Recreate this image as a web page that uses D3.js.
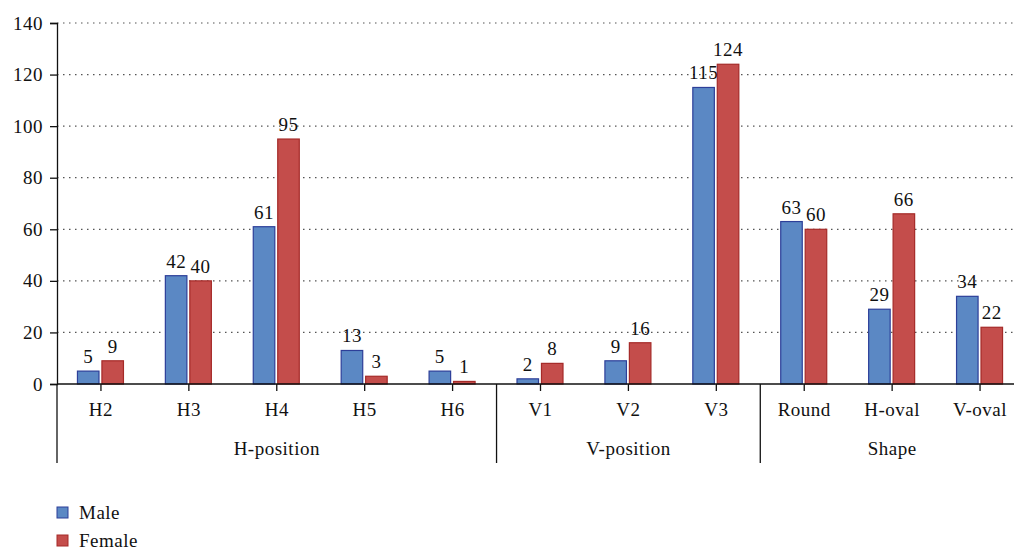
<!DOCTYPE html>
<html lang="en">
<head>
<meta charset="utf-8">
<script src="https://cdnjs.cloudflare.com/ajax/libs/d3/7.8.5/d3.min.js"></script>
<style>
  body { margin: 0; background: #fff; }
</style>
</head>
<body>
<svg id="canvas" width="1014" height="550"></svg>
<script>
// data
const categories = ["H2", "H3", "H4", "H5", "H6", "V1", "V2", "V3", "Round", "H-oval", "V-oval"];
const groups = ["H-position", "H-position", "H-position", "H-position", "H-position",
                "V-position", "V-position", "V-position", "Shape", "Shape", "Shape"];
const male = [5, 42, 61, 13, 5, 2, 9, 115, 63, 29, 34];
const female = [9, 40, 95, 3, 1, 8, 16, 124, 60, 66, 22];
const yTicks = [0, 20, 40, 60, 80, 100, 120, 140];
const seriesNames = ["Male", "Female"];

const fills = ["#5b88c4", "#c44d4b"];
const strokes = ["#2d3f99", "#a52a28"];
const FONT = "'Liberation Serif', 'Times New Roman', serif";
const FS = "19px";

const svg = d3.select("#canvas");
const plotL = 57, plotR = 1024, plotT = 23, plotB = 384;

const x = d3.scaleBand().domain(categories).range([plotL, plotR]);
const y = d3.scaleLinear().domain([0, 140]).range([plotB, plotT]);
const sub = d3.scaleBand().domain(seriesNames).range([-23.5, 22.5]).paddingInner(0.12);

function styleText(sel) {
  sel.style("font-family", FONT).style("font-size", FS).style("letter-spacing", "0.5px").attr("fill", "#111");
}

// gridlines
svg.append("g").selectAll("line")
  .data(yTicks.filter(d => d > 0))
  .join("line")
  .attr("x1", plotL).attr("x2", plotR)
  .attr("y1", d => y(d)).attr("y2", d => y(d))
  .attr("stroke", "#555").attr("stroke-width", 1.2)
  .attr("stroke-dasharray", "1.5,4.5");

// y axis
const yAxis = d3.axisLeft(y).tickValues(yTicks).tickSize(7).tickPadding(7);
const gy = svg.append("g").attr("transform", `translate(${plotL},0)`).call(yAxis);
gy.select(".domain").attr("stroke", "#111").attr("stroke-width", 1.3);
gy.selectAll(".tick line").attr("stroke", "#111").attr("stroke-width", 1.3);
gy.selectAll("text").call(styleText);

// bars
const rows = categories.map((c, i) => ({ cat: c, vals: [male[i], female[i]] }));
const barG = svg.append("g");
seriesNames.forEach((s, si) => {
  barG.selectAll(".bar" + si)
    .data(rows)
    .join("rect")
    .attr("class", "bar" + si)
    .attr("x", d => x(d.cat) + x.bandwidth() / 2 + sub(s))
    .attr("width", sub.bandwidth())
    .attr("y", d => y(d.vals[si]))
    .attr("height", d => y(0) - y(d.vals[si]))
    .attr("fill", fills[si])
    .attr("stroke", strokes[si])
    .attr("stroke-width", 1.2);
  barG.selectAll(".lab" + si)
    .data(rows)
    .join("text")
    .attr("class", "lab" + si)
    .attr("x", d => x(d.cat) + x.bandwidth() / 2 + sub(s) + sub.bandwidth() / 2)
    .attr("y", d => y(d.vals[si]) - 8)
    .attr("text-anchor", "middle")
    .text(d => d.vals[si])
    .call(styleText);
});

// x axis
const xAxis = d3.axisBottom(x).tickSize(7).tickPadding(12);
const gx = svg.append("g").attr("transform", `translate(0,${plotB})`).call(xAxis);
gx.select(".domain").attr("stroke", "#111").attr("stroke-width", 1.3).attr("d", `M${plotL},0H${plotR}`);
gx.selectAll(".tick line").attr("stroke", "#111").attr("stroke-width", 1.3);
gx.selectAll("text").call(styleText);

// group separators and labels
const groupNames = Array.from(new Set(groups));
const groupSpans = groupNames.map(g => {
  const cats = categories.filter((c, i) => groups[i] === g);
  return { name: g, x0: x(cats[0]), x1: x(cats[cats.length - 1]) + x.bandwidth() };
});
const sepX = [plotL].concat(groupSpans.slice(0, -1).map(d => d.x1));
svg.append("g").selectAll("line")
  .data(sepX)
  .join("line")
  .attr("x1", d => d).attr("x2", d => d)
  .attr("y1", plotB).attr("y2", 463)
  .attr("stroke", "#111").attr("stroke-width", 1.3);
svg.append("g").selectAll("text")
  .data(groupSpans)
  .join("text")
  .attr("x", d => (d.x0 + d.x1) / 2)
  .attr("y", 455)
  .attr("text-anchor", "middle")
  .text(d => d.name)
  .call(styleText);

// legend
const leg = svg.append("g").selectAll("g")
  .data(seriesNames)
  .join("g")
  .attr("transform", (d, i) => `translate(57,${507 + i * 28})`);
leg.append("rect").attr("width", 11).attr("height", 11)
  .attr("fill", (d, i) => fills[i]).attr("stroke", (d, i) => strokes[i]).attr("stroke-width", 1);
leg.append("text").attr("x", 22).attr("y", 12)
  .text(d => d)
  .call(styleText);
</script>
</body>
</html>
